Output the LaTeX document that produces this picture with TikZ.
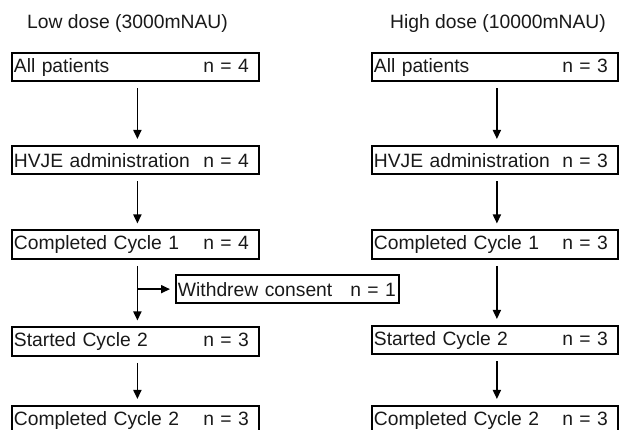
\documentclass[tikz,border=0pt]{standalone}
\usepackage{fontspec}
\setmainfont{Liberation Sans}
\usetikzlibrary{arrows.meta, positioning}
\tikzset{stage/.style={draw, line width=1.8pt, anchor=north west, inner xsep=2pt, inner ysep=0pt, minimum height=28.5pt, text width=#1, align=left},
  stage/.default=243pt,
  flow/.style={line width=1.7pt, -{Triangle[length=9pt, width=8pt]}, shorten <=6pt, shorten >=6pt}}
\newcommand{\nval}[1]{\hfill n = #1\hspace*{8pt}}

\begin{document}
\begin{tikzpicture}[x=1pt, y=-1pt, font=\fontsize{19.3}{22}\selectfont, text=black!90]
\useasboundingbox (0,0) rectangle (619,430);
\clip (0,0) rectangle (619,430);
% headings
\node[anchor=base west, inner sep=0pt] (lowhead) at (27,29) {Low dose (3000mNAU)};
\node[anchor=base west, inner sep=0pt] (highhead) at (390,29) {High dose (10000mNAU)};
% low dose arm
\node[stage] (lo1) at (11,52) {All patients\nval{4}};
\node[stage] (lo2) at (11,145) {HVJE administration\nval{4}};
\node[stage] (lo3) at (11,229.5) {Completed Cycle 1\nval{4}};
\node[stage] (lo4) at (11,326.5) {Started Cycle 2\nval{3}};
\node[stage] (lo5) at (11,405) {Completed Cycle 2\nval{3}};
\node[stage=219pt] (wd) at (175,274) {Withdrew consent\hfill n = 1\hspace*{1pt}};
% high dose arm
\node[stage=242pt] (hi1) at (371,52) {All patients\nval{3}};
\node[stage=242pt] (hi2) at (371,145) {HVJE administration\nval{3}};
\node[stage=242pt] (hi3) at (371,229.5) {Completed Cycle 1\nval{3}};
\node[stage=242pt] (hi4) at (371,325) {Started Cycle 2\nval{3}};
\node[stage=242pt] (hi5) at (371,405) {Completed Cycle 2\nval{3}};
% arrows
\foreach \a/\b in {lo1/lo2, lo2/lo3, lo3/lo4, lo4/lo5, hi1/hi2, hi2/hi3, hi3/hi4, hi4/hi5}
  \draw[flow] ([xshift=2pt]\a.south) -- ([xshift=2pt]\b.north);
\draw[flow, shorten <=0pt, shorten >=5pt] ([xshift=2pt]lo3.south |- wd.west) -- (wd.west);
\end{tikzpicture}
\end{document}
